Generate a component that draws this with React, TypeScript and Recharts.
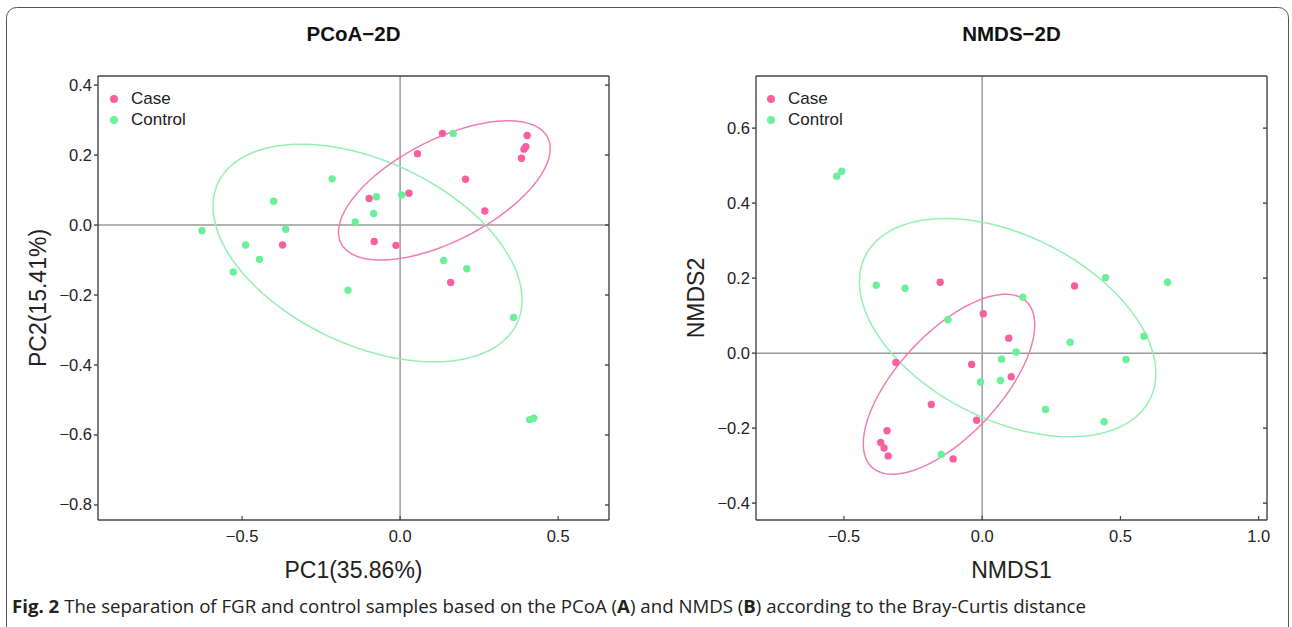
import React from 'react';
import { ScatterChart, Scatter, XAxis, YAxis, ReferenceLine, Legend } from 'recharts';

// ---------- data ----------
const groups = ['Case', 'Control'];
const pointColors = ['#F95FA0', '#6BF09A'];
const ellipseColors = ['#F07DB4', '#93F0B2'];

// PCoA (PC1, PC2)
const pcoaCase: [number, number][] = [
  [0.134, 0.262], [0.402, 0.256], [0.398, 0.224], [0.392, 0.217], [0.384, 0.191],
  [0.055, 0.204], [0.207, 0.131], [0.028, 0.091], [-0.098, 0.076], [0.268, 0.04],
  [-0.082, -0.047], [-0.013, -0.058], [-0.372, -0.057], [0.16, -0.164],
];
const pcoaControl: [number, number][] = [
  [0.168, 0.262], [-0.215, 0.132], [-0.4, 0.068], [-0.075, 0.081], [0.005, 0.086],
  [-0.084, 0.033], [-0.142, 0.009], [-0.627, -0.016], [-0.362, -0.012], [-0.489, -0.057],
  [-0.445, -0.098], [-0.528, -0.134], [-0.165, -0.186], [0.138, -0.101], [0.211, -0.125],
  [0.359, -0.264], [0.41, -0.556], [0.423, -0.552],
];
// ellipse: [centerX, centerY, halfExtentX, halfExtentY, correlation]
const pcoaCaseEllipse = [0.14, 0.099, 0.335, 0.199, 0.6];
const pcoaControlEllipse = [-0.103, -0.08, 0.489, 0.311, -0.43];

// NMDS (NMDS1, NMDS2)
const nmdsCase: [number, number][] = [
  [-0.152, 0.189], [0.334, 0.179], [0.004, 0.105], [0.096, 0.04], [-0.312, -0.025],
  [-0.038, -0.03], [0.105, -0.063], [-0.184, -0.137], [-0.02, -0.179], [-0.344, -0.207],
  [-0.367, -0.238], [-0.355, -0.253], [-0.34, -0.274], [-0.105, -0.282],
];
const nmdsControl: [number, number][] = [
  [-0.526, 0.472], [-0.508, 0.485], [-0.383, 0.181], [-0.279, 0.173], [0.446, 0.201],
  [0.67, 0.189], [0.147, 0.149], [-0.124, 0.089], [0.318, 0.029], [0.585, 0.045],
  [0.123, 0.003], [0.52, -0.017], [0.07, -0.016], [-0.006, -0.077], [0.066, -0.073],
  [0.229, -0.15], [0.441, -0.183], [-0.148, -0.27],
];
const nmdsCaseEllipse = [-0.12, -0.083, 0.31, 0.24, 0.66];
const nmdsControlEllipse = [0.092, 0.068, 0.536, 0.291, -0.42];

const pcoaXTicks = [-0.5, 0, 0.5];
const pcoaYTicks = [-0.8, -0.6, -0.4, -0.2, 0, 0.2, 0.4];
const nmdsXTicks = [-0.5, 0, 0.5, 1.0];
const nmdsYTicks = [-0.4, -0.2, 0, 0.2, 0.4, 0.6];
const pcoaXDomain: [number, number] = [-0.956, 0.661];
const pcoaYDomain: [number, number] = [-0.843, 0.426];
const nmdsXDomain: [number, number] = [-0.818, 1.03];
const nmdsYDomain: [number, number] = [-0.445, 0.739];

// ---------- helpers ----------
const FONT = '"Liberation Sans", Arial, Helvetica, sans-serif';
const AXIS_COLOR = '#444';
const TICK_FONT = 16.5;
const fmt = (v: number) => v.toFixed(1).replace('-', '\u2212');
const toPts = (arr: [number, number][]) => arr.map(([x, y]) => ({ x, y }));
const ellipsePts = (e: number[]) => {
  const [cx, cy, sx, sy, r] = e;
  const pts: { x: number; y: number }[] = [];
  const n = 120;
  for (let i = 0; i <= n; i++) {
    const t = (2 * Math.PI * i) / n;
    pts.push({ x: cx + sx * Math.cos(t), y: cy + sy * (r * Math.cos(t) + Math.sqrt(1 - r * r) * Math.sin(t)) });
  }
  return pts;
};

const BottomTick = (props: any) => {
  const { x, y, payload } = props;
  const axisY = y - 8;
  return (
    <g>
      <line x1={x} x2={x} y1={axisY} y2={axisY - 4} stroke={AXIS_COLOR} strokeWidth={1.2} />
      <text x={x} y={axisY + 22} textAnchor="middle" fontSize={TICK_FONT} fontFamily={FONT} fill="#222">
        {fmt(payload.value)}
      </text>
    </g>
  );
};
const LeftTick = (props: any) => {
  const { x, y, payload } = props;
  return (
    <text x={x} y={y} dy={5.5} textAnchor="end" fontSize={TICK_FONT} fontFamily={FONT} fill="#222">
      {fmt(payload.value)}
    </text>
  );
};
const EmptyTick = () => <g />;

const LegendContent = () => (
  <div style={{ fontFamily: FONT, fontSize: 17, color: '#222', lineHeight: '21px' }}>
    {groups.map((g, i) => (
      <div key={g} style={{ display: 'flex', alignItems: 'center', whiteSpace: 'nowrap' }}>
        <span style={{ display: 'inline-block', width: 8, height: 8, borderRadius: 4, background: pointColors[i], marginRight: 13 }} />
        {g}
      </div>
    ))}
  </div>
);

type PanelProps = {
  left: number;
  width: number;
  marginLeft: number;
  marginRight: number;
  caseData: [number, number][];
  controlData: [number, number][];
  caseEllipse: number[];
  controlEllipse: number[];
  xDomain: [number, number];
  yDomain: [number, number];
  xTicks: number[];
  yTicks: number[];
  xLabel: string;
  yLabel: string;
  legendLeft: number;
};

const Panel = (p: PanelProps) => (
  <div style={{ position: 'absolute', left: p.left, top: 0 }}>
    <ScatterChart width={p.width} height={627} margin={{ top: 76, right: p.marginRight, bottom: 77, left: p.marginLeft }}>
      <XAxis
        type="number" dataKey="x" xAxisId={0} domain={p.xDomain} ticks={p.xTicks} allowDataOverflow
        height={30} tickLine={false} tick={<BottomTick />} stroke={AXIS_COLOR} strokeWidth={1.4}
        label={{ value: p.xLabel, position: 'bottom', offset: 12, style: { fontSize: 23, fontFamily: FONT, fill: '#222' } }}
      />
      <XAxis
        type="number" xAxisId="top" orientation="top" mirror domain={p.xDomain} ticks={p.xTicks} allowDataOverflow
        tickSize={4} tick={EmptyTick} stroke={AXIS_COLOR} strokeWidth={1.4}
      />
      <YAxis
        type="number" dataKey="y" yAxisId={0} domain={p.yDomain} ticks={p.yTicks} allowDataOverflow
        width={60} tickSize={4} tickMargin={2} stroke={AXIS_COLOR} strokeWidth={1.4}
        tick={<LeftTick />}
        label={{ value: p.yLabel, angle: -90, position: 'insideLeft', offset: 0, style: { textAnchor: 'middle', fontSize: 23, fontFamily: FONT, fill: '#222' } }}
      />
      <YAxis
        type="number" yAxisId="right" orientation="right" mirror domain={p.yDomain} ticks={p.yTicks} allowDataOverflow
        tickSize={4} tick={EmptyTick} stroke={AXIS_COLOR} strokeWidth={1.4}
      />
      <ReferenceLine x={0} stroke="#9a9a9a" strokeWidth={1.5} />
      <ReferenceLine y={0} stroke="#9a9a9a" strokeWidth={1.5} />
      <Scatter
        data={ellipsePts(p.controlEllipse)} legendType="none" isAnimationActive={false}
        line={{ stroke: ellipseColors[1], strokeWidth: 1.5 }} lineType="joint" shape={() => <g />}
      />
      <Scatter
        data={ellipsePts(p.caseEllipse)} legendType="none" isAnimationActive={false}
        line={{ stroke: ellipseColors[0], strokeWidth: 1.5 }} lineType="joint" shape={() => <g />}
      />
      <Scatter name={groups[1]} data={toPts(p.controlData)} fill={pointColors[1]} isAnimationActive={false}
        shape={(s: any) => <circle cx={s.cx} cy={s.cy} r={3.7} fill={pointColors[1]} />} />
      <Scatter name={groups[0]} data={toPts(p.caseData)} fill={pointColors[0]} isAnimationActive={false}
        shape={(s: any) => <circle cx={s.cx} cy={s.cy} r={3.7} fill={pointColors[0]} />} />
      <Legend
        layout="vertical" align="center" verticalAlign="middle" content={<LegendContent />}
        wrapperStyle={{ left: p.legendLeft, top: 88, width: 'auto', height: 'auto' }}
      />
    </ScatterChart>
  </div>
);

export default function App() {
  return (
    <div style={{ position: 'absolute', left: 0, top: 0, width: 1292, height: 627, background: '#fff', overflow: 'hidden' }}>
      <Panel
        left={0} width={620} marginLeft={38} marginRight={11}
        caseData={pcoaCase} controlData={pcoaControl}
        caseEllipse={pcoaCaseEllipse} controlEllipse={pcoaControlEllipse}
        xDomain={pcoaXDomain} yDomain={pcoaYDomain} xTicks={pcoaXTicks} yTicks={pcoaYTicks}
        xLabel="PC1(35.86%)" yLabel="PC2(15.41%)" legendLeft={110}
      />
      <Panel
        left={640} width={640} marginLeft={56} marginRight={13}
        caseData={nmdsCase} controlData={nmdsControl}
        caseEllipse={nmdsCaseEllipse} controlEllipse={nmdsControlEllipse}
        xDomain={nmdsXDomain} yDomain={nmdsYDomain} xTicks={nmdsXTicks} yTicks={nmdsYTicks}
        xLabel="NMDS1" yLabel="NMDS2" legendLeft={127}
      />
      <svg width={1292} height={627} style={{ position: 'absolute', left: 0, top: 0, pointerEvents: 'none' }}>
        <rect x={6.5} y={7.5} width={1282} height={660} rx={10} ry={10} fill="none" stroke="#555" strokeWidth={1} />
        <text x={353.5} y={41} textAnchor="middle" fontFamily={FONT} fontWeight="bold" fontSize={20.5} fill="#111">PCoA{'\u2212'}2D</text>
        <text x={1011.5} y={41} textAnchor="middle" fontFamily={FONT} fontWeight="bold" fontSize={20.5} fill="#111">NMDS{'\u2212'}2D</text>
        <text x={12} y={613} fontFamily='"Open Sans", sans-serif' fontSize={18} fill="#222" textLength={1074} lengthAdjust="spacingAndGlyphs">
          <tspan fontWeight="bold">Fig. 2</tspan>
          {'  The separation of FGR and control samples based on the PCoA ('}
          <tspan fontWeight="bold">A</tspan>
          {') and NMDS ('}
          <tspan fontWeight="bold">B</tspan>
          {') according to the Bray-Curtis distance'}
        </text>
      </svg>
    </div>
  );
}
